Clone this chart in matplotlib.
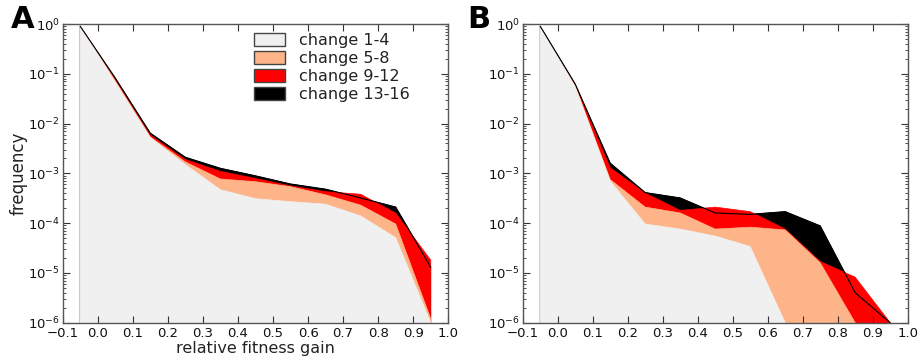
import numpy as np
import matplotlib
matplotlib.use("Agg")
from matplotlib import pyplot as plt
from matplotlib.patches import Patch

# bin centres of relative fitness gain
gain = [-0.05, 0.05, 0.15, 0.25, 0.35, 0.45, 0.55, 0.65, 0.75, 0.85, 0.95]

labels = ['change 1-4', 'change 5-8', 'change 9-12', 'change 13-16']
colors = ['#f0f0f0', '#fdb488', '#ff0000', '#000000']

# panel A frequencies
a_c1_4 = [0.9, 0.068, 5.2e-3, 1.5e-3, 4.7e-4, 3.1e-4, 2.7e-4, 2.4e-4, 1.4e-4, 5.1e-5, 1.0e-6]
a_c5_8 = [0.9, 0.072, 5.4e-3, 1.7e-3, 7.7e-4, 6.8e-4, 5.4e-4, 3.7e-4, 2.3e-4, 9.6e-5, 1.2e-6]
a_c9_12 = [0.9, 0.078, 5.9e-3, 1.9e-3, 1.1e-3, 7.9e-4, 5.6e-4, 4.3e-4, 3.8e-4, 1.6e-4, 1.8e-5]
a_c13_16 = [0.9, 0.082, 6.4e-3, 2.1e-3, 1.26e-3, 8.9e-4, 6.1e-4, 4.8e-4, 3.2e-4, 2.1e-4, 1.3e-5]

# panel B frequencies
b_c1_4 = [0.9, 0.055, 7.0e-4, 9.6e-5, 7.6e-5, 5.5e-5, 3.4e-5, 1.0e-6, 0, 0, 0]
b_c5_8 = [0.9, 0.057, 7.5e-4, 2.1e-4, 1.6e-4, 7.6e-5, 8.3e-5, 7.3e-5, 1.6e-5, 1.0e-6, 0]
b_c9_12 = [0.9, 0.06, 1.3e-3, 4.0e-4, 1.8e-4, 2.1e-4, 1.7e-4, 7.6e-5, 1.7e-5, 8.2e-6, 1.0e-6]
b_c13_16 = [0.9, 0.062, 1.6e-3, 4.1e-4, 3.2e-4, 1.6e-4, 1.5e-4, 1.7e-4, 8.8e-5, 4.0e-6, 1.0e-6]

xticks = [-0.1, 0.0, 0.1, 0.2, 0.3, 0.4, 0.5, 0.6, 0.7, 0.8, 0.9, 1.0]
xticklabels = ['\u22120.1', '0.0', '0.1', '0.2', '0.3', '0.4', '0.5', '0.6', '0.7', '0.8', '0.9', '1.0']
yticks = [1e-6, 1e-5, 1e-4, 1e-3, 1e-2, 1e-1, 1e0]
yticklabels = ['$10^{-6}$', '$10^{-5}$', '$10^{-4}$', '$10^{-3}$', '$10^{-2}$', '$10^{-1}$', '$10^{0}$']

plt.rcParams['font.family'] = 'DejaVu Sans'
plt.rcParams['mathtext.default'] = 'regular'


def draw_panel(ax, series):
    x = np.array(gain)
    # largest category drawn first, the others stacked over it
    for vals, c in reversed(list(zip(series, colors))):
        y = np.array(vals, dtype=float)
        ax.fill_between(x, 1e-9, np.where(y > 0, y, 1e-9), facecolor=c, edgecolor=c, linewidth=0.5)
    y4 = np.array(series[3], dtype=float)
    ax.plot(x, np.where(y4 > 0, y4, 1e-9), '-', color='black', linewidth=0.8)

    ax.set_yscale('log')
    ax.set_xlim(-0.1, 1.0)
    ax.set_ylim(1e-6, 1e0)
    ax.set_xticks(xticks)
    ax.set_xticklabels(xticklabels)
    ax.set_yticks(yticks)
    ax.set_yticklabels(yticklabels)
    ax.tick_params(which='both', direction='in', top=True, right=True, labelsize=9.5, colors='#333333',
                   labelcolor='#111111')
    ax.tick_params(axis='x', pad=3)
    ax.tick_params(axis='y', pad=2)
    ax.tick_params(which='major', length=5, width=0.8)
    ax.tick_params(which='minor', length=2.5, width=0.6)
    for s in ax.spines.values():
        s.set_color('#555555')
        s.set_linewidth(1.0)


fig = plt.figure(figsize=(9.19, 3.61), dpi=100)
ax_a = fig.add_axes([0.0682, 0.1061, 0.4196, 0.8274])
ax_b = fig.add_axes([0.5688, 0.1061, 0.4189, 0.8274])

draw_panel(ax_a, [a_c1_4, a_c5_8, a_c9_12, a_c13_16])
draw_panel(ax_b, [b_c1_4, b_c5_8, b_c9_12, b_c13_16])

fig.text(0.012, 0.945, 'A', fontsize=22, fontweight='bold', ha='left', va='center')
fig.text(0.508, 0.945, 'B', fontsize=22, fontweight='bold', ha='left', va='center')

ax_a.set_xlabel('relative fitness gain', fontsize=11.5, color='#222222')
ax_a.set_ylabel('frequency', fontsize=12, color='#222222')
ax_a.xaxis.set_label_coords(0.5, -0.06)
ax_a.yaxis.set_label_coords(-0.09, 0.5)

handles = [Patch(facecolor=c, edgecolor='#444444', linewidth=1.0) for c in colors]
leg = ax_a.legend(handles, labels, loc='upper left', bbox_to_anchor=(0.497, 0.97), frameon=False,
                  fontsize=11.5, handlelength=1.9, handleheight=0.9, handletextpad=0.9,
                  labelspacing=0.18, borderaxespad=0, borderpad=0)
for t in leg.get_texts():
    t.set_color('#222222')

fig.savefig('out.png', dpi=100)
